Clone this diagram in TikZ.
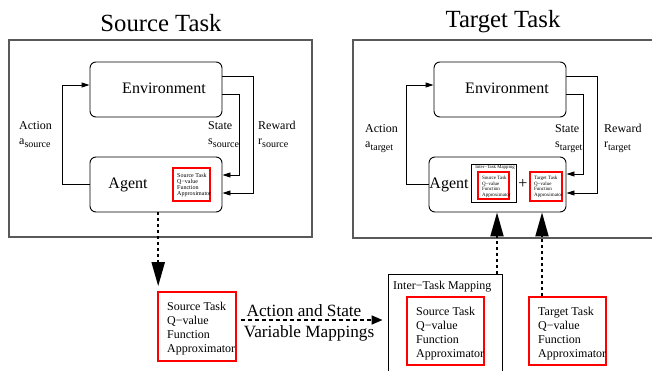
\documentclass[tikz,border=0pt]{standalone}
\usepackage{fontspec}
\setmainfont{Liberation Serif}
\usetikzlibrary{arrows.meta,calc}
\begin{document}
\begin{tikzpicture}[x=1pt,y=-1pt,
  bigbox/.style={draw=black!65,line width=1.3pt,inner sep=0},
  roundbox/.style={draw,line width=0.9pt,rounded corners=6pt,inner sep=0},
  redbox/.style={draw=red,line width=1.6pt,inner sep=0},
  blackbox/.style={draw,line width=0.9pt,inner sep=0},
  txt/.style={inner sep=0,anchor=base west,align=left},
  looparrow/.style={line width=0.9pt,-{Triangle[length=8pt,width=5pt]}},
  bigdot/.style={line width=2pt,dash pattern=on 3pt off 3pt,-{Triangle[length=24pt,width=13pt]}},
  smalldash/.style={line width=1.5pt,dash pattern=on 4pt off 3pt,-{Triangle[length=11pt,width=9pt]}}
]
\useasboundingbox (0,0) rectangle (652,371);
\clip (0,0) rectangle (652,371);

% titles
\node[inner sep=0,anchor=base,font=\fontsize{24.7}{28}\selectfont] (t1) at (161,31.5) {Source Task};
\node[inner sep=0,anchor=base,font=\fontsize{24.7}{28}\selectfont] (t2) at (503,28) {Target Task};

% big frames
\node[bigbox,minimum width=303pt,minimum height=197pt] (srcframe) at (160.5,138.5) {};
\node[bigbox,minimum width=310pt,minimum height=198pt] (tgtframe) at (508,139) {};

% ---------- source task ----------
\node[roundbox,minimum width=132pt,minimum height=55pt] (env1) at (156,89.5) {};
\node[roundbox,minimum width=132pt,minimum height=55pt] (ag1) at (156,184.5) {};
\node[inner sep=0,anchor=base,font=\fontsize{16}{18}\selectfont] (env1t) at (164,94) {Environment};
\node[inner sep=0,anchor=base,font=\fontsize{16}{18}\selectfont] (ag1t) at (128,189) {Agent};
\node[redbox,minimum width=37pt,minimum height=33pt] (q1s) at (191.5,184.5) {};
\node[txt,font=\fontsize{6}{6}\selectfont] (q1st) at (177,196) {Source Task\\Q−value\\Function\\Approximator};

\draw[looparrow] (ag1.west) -- ++(-27,0) |- ([yshift=4.5pt]env1.west);
\draw[looparrow] ([yshift=-4.5pt]env1.east) -- ++(17,0) |- ([yshift=9.5pt]ag1.east);
\draw[looparrow] ([yshift=13.5pt]env1.east) -- ++(31,0) |- ([yshift=-8.5pt]ag1.east);

\node[txt,font=\fontsize{12}{15}\selectfont] (act1) at (19,145) {Action\\a\raisebox{-2.5pt}{\fontsize{10}{10}\selectfont source}};
\node[txt,font=\fontsize{12}{15}\selectfont] (st1) at (208,145) {State\\s\raisebox{-2.5pt}{\fontsize{10}{10}\selectfont source}};
\node[txt,font=\fontsize{12}{15}\selectfont] (rw1) at (258,145) {Reward\\r\raisebox{-2.5pt}{\fontsize{10}{10}\selectfont source}};

% ---------- target task ----------
\node[roundbox,minimum width=132pt,minimum height=55pt] (env2) at (500,89.5) {};
\node[roundbox,minimum width=137pt,minimum height=55pt] (ag2) at (497.5,184.5) {};
\node[inner sep=0,anchor=base,font=\fontsize{16}{18}\selectfont] (env2t) at (507,94) {Environment};
\node[inner sep=0,anchor=base,font=\fontsize{16}{18}\selectfont] (ag2t) at (449,189) {Agent};
\node[blackbox,minimum width=45pt,minimum height=38pt] (itm2) at (493.5,183) {};
\node[inner sep=0,anchor=base,font=\fontsize{4.8}{5}\selectfont] (itm2t) at (495,169) {Inter−Task Mapping};
\node[redbox,minimum width=31pt,minimum height=27pt] (q2s) at (493.5,185.5) {};
\node[txt,font=\fontsize{5}{5.5}\selectfont] (q2st) at (482,196.5) {Source Task\\Q−value\\Function\\Approximator};
\node[inner sep=0,anchor=base,font=\fontsize{16}{18}\selectfont] (plus) at (523,189) {+};
\node[redbox,minimum width=32pt,minimum height=29pt] (q4s) at (546,186.5) {};
\node[txt,font=\fontsize{5}{5.5}\selectfont] (q4st) at (534,196.5) {Target Task\\Q−value\\Function\\Approximator};

\draw[looparrow] (ag2.west) -- ++(-22,0) |- ([yshift=4.5pt]env2.west);
\draw[looparrow] ([yshift=-4.5pt]env2.east) -- ++(17,0) |- ([yshift=10.5pt]ag2.east);
\draw[looparrow] ([yshift=13.5pt]env2.east) -- ++(31,0) |- ([yshift=-8.5pt]ag2.east);

\node[txt,font=\fontsize{12}{15}\selectfont] (act2) at (365,148) {Action\\a\raisebox{-2.5pt}{\fontsize{10}{10}\selectfont target}};
\node[txt,font=\fontsize{12}{15}\selectfont] (st2) at (555,148) {State\\s\raisebox{-2.5pt}{\fontsize{10}{10}\selectfont target}};
\node[txt,font=\fontsize{12}{15}\selectfont] (rw2) at (604,148) {Reward\\r\raisebox{-2.5pt}{\fontsize{10}{10}\selectfont target}};

% ---------- bottom ----------
\node[redbox,minimum width=78pt,minimum height=69pt] (q1) at (197,326.5) {};
\node[txt,font=\fontsize{12}{13.7}\selectfont] (q1t) at (167,352) {Source Task\\Q−value\\Function\\Approximator};

\node[blackbox,minimum width=114pt,minimum height=110pt] (itm) at (445,329) {};
\node[txt,font=\fontsize{12}{14}\selectfont] (itmt) at (393,289) {Inter−Task Mapping};
\node[redbox,minimum width=77pt,minimum height=68pt] (q2) at (445.5,331) {};
\node[txt,font=\fontsize{12}{13.7}\selectfont] (q2t) at (416,357) {Source Task\\Q−value\\Function\\Approximator};

\node[redbox,minimum width=77pt,minimum height=68pt] (q3) at (567.5,331) {};
\node[txt,font=\fontsize{12}{13.7}\selectfont] (q3t) at (538,357) {Target Task\\Q−value\\Function\\Approximator};

\node[inner sep=0,anchor=base,font=\fontsize{17.2}{20}\selectfont] (am1) at (304,316) {Action and State};
\node[inner sep=0,anchor=base,font=\fontsize{17.2}{20}\selectfont] (am2) at (309,337) {Variable Mappings};

% connectors
\coordinate (d1) at ([xshift=1pt]q1.north west);
\draw[bigdot,shorten >=5pt] (d1 |- ag1.south) -- (d1);
\draw[smalldash,shorten <=4pt,shorten >=5pt] ([yshift=6.5pt]q1.east) -- ([yshift=6.5pt]q1.east -| itm.west);
\coordinate (u1) at ([xshift=52pt]itm.north);
\coordinate (u2) at ([xshift=-25.5pt]q3.north);
\draw[bigdot] (u1) -- (u1 |- ag2.south);
\draw[bigdot] (u2) -- (u2 |- ag2.south);
\end{tikzpicture}
\end{document}
